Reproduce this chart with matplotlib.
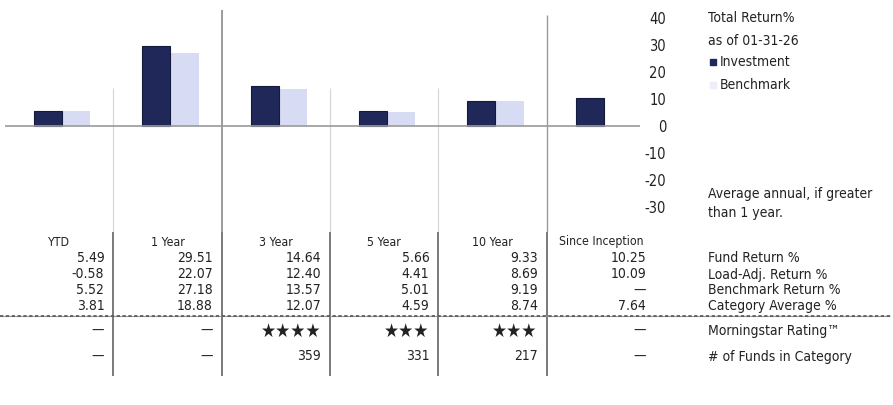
import matplotlib
matplotlib.use("Agg")
import matplotlib.pyplot as plt
from matplotlib.patches import Rectangle

plt.rcParams['font.family'] = ['DejaVu Sans']
plt.rcParams['font.stretch'] = 'condensed'

# ---- data ----
periods = ["YTD", "1 Year", "3 Year", "5 Year", "10 Year", "Since Inception"]
fund_return = [5.49, 29.51, 14.64, 5.66, 9.33, 10.25]
load_adj_return = [-0.58, 22.07, 12.40, 4.41, 8.69, 10.09]
benchmark_return = [5.52, 27.18, 13.57, 5.01, 9.19, None]
category_average = [3.81, 18.88, 12.07, 4.59, 8.74, 7.64]
star_rating = [None, None, 4, 3, 3, None]
funds_in_category = [None, None, 359, 331, 217, None]
row_labels = ["Fund Return %", "Load-Adj. Return %", "Benchmark Return %",
              "Category Average %", "Morningstar Rating\u2122", "# of Funds in Category"]
y_ticks = [40, 30, 20, 10, 0, -10, -20, -30]

NAVY = "#1f2858"
LAVENDER = "#d8dbf4"
TXT = "#222222"
W, H = 893, 405

fig = plt.figure(figsize=(W / 100, H / 100), dpi=100)

# bar chart axes (pixel box: x 5..655, y 10..232)
x0, x1, ytop, ybot = 5, 655, 10, 232
ax = fig.add_axes([x0 / W, 1 - ybot / H, (x1 - x0) / W, (ybot - ytop) / H])
ax.set_xlim(0, 6)
ax.set_ylim(-39.4, 43.0)
for s in ax.spines.values():
    s.set_visible(False)
ax.set_xticks([])
ax.yaxis.tick_right()
ax.set_yticks(y_ticks)
ax.set_yticklabels([str(t) for t in y_ticks])
ax.tick_params(axis='y', length=0, pad=8, labelsize=10.5, labelcolor=TXT)
for lab in ax.get_yticklabels():
    lab.set_ha('right')

bw = 0.26
for i in range(len(periods)):
    ax.bar(i + 0.267, fund_return[i], width=bw, align='edge', color=NAVY,
           edgecolor="#141a3c", linewidth=0.8, zorder=3)
    if benchmark_return[i] is not None:
        ax.bar(i + 0.267 + bw, benchmark_return[i], width=bw, align='edge',
               color=LAVENDER, linewidth=0, zorder=2)

ax.hlines(0, 0, 5.86, color="#9a9a9a", linewidth=1.2, zorder=4)
# column separators in the chart area
ax.vlines(2, -39.4, 43.0, color="#8a8a8a", linewidth=1.2)
ax.vlines(5, -39.4, 41.0, color="#9a9a9a", linewidth=1.0)
for b in (1, 3, 4):
    ax.vlines(b, -39.4, 14, color="#d8d8d8", linewidth=0.9)

# ---- table ----
ov = fig.add_axes([0, 0, 1, 1])
ov.set_xlim(0, W)
ov.set_ylim(H, 0)
ov.axis('off')

col_w = (x1 - x0) / 6
for i in range(5):
    ov.vlines(x0 + col_w * (i + 1), 232, 376, color="#555555", linewidth=1.1)

# separator between the return rows and the rating rows
ov.hlines(316, 0, 890, color="#9a9a9a", linewidth=0.8)
ov.hlines(316, 0, 890, color="#555555", linewidth=1.2, linestyles=(0, (2, 1.5)))

row_y = [258, 274.5, 290.5, 306]
fs = 10
for i, name in enumerate(periods):
    cx = x0 + col_w * (i + 0.5)
    rx = x0 + col_w * (i + 1) - 9
    ov.text(cx, 242, name, ha='center', va='center', fontsize=8.8, color=TXT)
    for series, yy in zip([fund_return, load_adj_return, benchmark_return, category_average], row_y):
        v = series[i]
        s = "\u2014" if v is None else f"{v:.2f}"
        ov.text(rx, yy, s, ha='right', va='center', fontsize=fs, color=TXT)
    st = star_rating[i]
    ov.text(rx, 331, "\u2014" if st is None else "\u2605" * st, ha='right', va='center',
            fontsize=fs if st is None else 13.5, color=TXT)
    n = funds_in_category[i]
    ov.text(rx, 356.5, "\u2014" if n is None else str(n), ha='right', va='center',
            fontsize=fs, color=TXT)

for lab, yy in zip(row_labels, row_y + [331, 356.5]):
    ov.text(708, yy, lab, ha='left', va='center', fontsize=fs, color=TXT)

# legend and notes
ov.text(708, 18, "Total Return%", ha='left', va='center', fontsize=fs, color=TXT)
ov.text(708, 41, "as of 01-31-26", ha='left', va='center', fontsize=fs, color=TXT)
ov.add_patch(Rectangle((710, 59), 6, 6, color=NAVY))
ov.text(720, 62, "Investment", ha='left', va='center', fontsize=fs, color=TXT)
ov.add_patch(Rectangle((710, 82), 6, 6, color="#eeeef8"))
ov.text(720, 85, "Benchmark", ha='left', va='center', fontsize=fs, color=TXT)
ov.text(708, 194, "Average annual, if greater", ha='left', va='center', fontsize=fs, color=TXT)
ov.text(708, 213, "than 1 year.", ha='left', va='center', fontsize=fs, color=TXT)

fig.savefig("out.png", dpi=100)
